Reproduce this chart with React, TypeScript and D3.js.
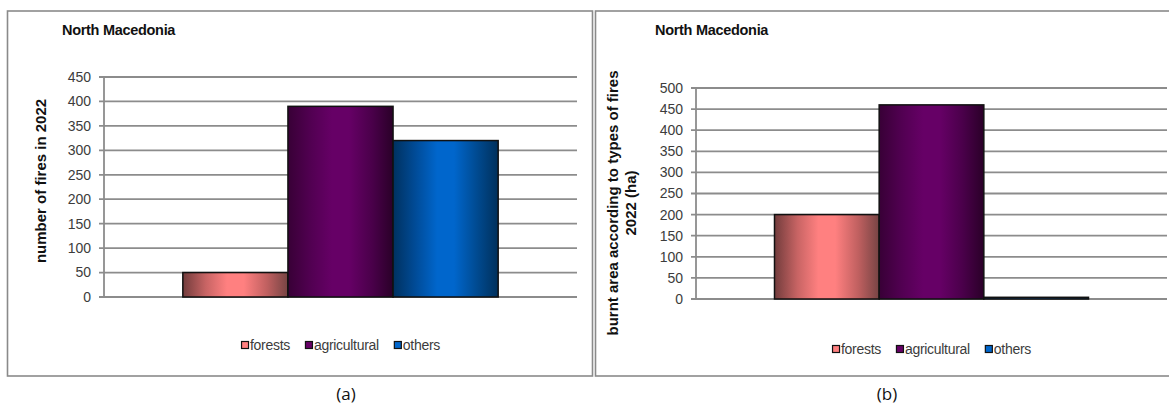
import React, { useEffect, useRef } from "react";
import * as d3 from "d3";

const categories = ["forests", "agricultural", "others"];
const firesValues = [50, 390, 320];
const areaValues = [200, 460, 4];
const firesTicks = [0, 50, 100, 150, 200, 250, 300, 350, 400, 450];
const areaTicks = [0, 50, 100, 150, 200, 250, 300, 350, 400, 450, 500];
const panelTitle = "North Macedonia";
const firesLabel = ["number of fires in 2022"];
const areaLabel = ["burnt area according to types of fires", "2022  (ha)"];
const captions = ["(a)", "(b)"];

const gradStops: Record<string, string[]> = {
  forests: ["#723c3c", "#c86464", "#ff8080", "#ff8080", "#c06060", "#764444"],
  agricultural: ["#380036", "#520052", "#660066", "#660066", "#4a004a", "#2a0028"],
  others: ["#00315f", "#004c99", "#0066cc", "#0066cc", "#004a90", "#00305c"],
};
const gradOffsets = [0, 0.22, 0.42, 0.58, 0.8, 1];
const legendColors: Record<string, string> = {
  forests: "#ff8080",
  agricultural: "#660066",
  others: "#0066cc",
};

const FONT = "'Liberation Sans', Arial, sans-serif";

type PanelCfg = {
  id: string;
  frame: [number, number, number, number];
  plot: { x0: number; x1: number; y0: number; y1: number };
  values: number[];
  ticks: number[];
  max: number;
  label: string[];
  labelX: number;
  labelY: number;
  titleX: number;
  legendY: number;
  caption: string;
  captionX: number;
};

export default function App() {
  const ref = useRef<SVGSVGElement | null>(null);

  useEffect(() => {
    const svg = d3.select(ref.current);
    svg.selectAll("*").remove();
    const defs = svg.append("defs");
    categories.forEach((c) => {
      const g = defs
        .append("linearGradient")
        .attr("id", "g-" + c)
        .attr("x1", "0%")
        .attr("x2", "100%")
        .attr("y1", "0%")
        .attr("y2", "0%");
      gradStops[c].forEach((col, i) => {
        g.append("stop").attr("offset", gradOffsets[i]).attr("stop-color", col);
      });
    });

    const panels: PanelCfg[] = [
      {
        id: "a",
        frame: [7.5, 11, 585, 365],
        plot: { x0: 104, x1: 577, y0: 77, y1: 297 },
        values: firesValues,
        ticks: firesTicks,
        max: 450,
        label: firesLabel,
        labelX: 46,
        labelY: 181,
        titleX: 62,
        legendY: 345,
        caption: captions[0],
        captionX: 346,
      },
      {
        id: "b",
        frame: [595.5, 11, 580, 365],
        plot: { x0: 696, x1: 1167, y0: 88, y1: 299 },
        values: areaValues,
        ticks: areaTicks,
        max: 500,
        label: areaLabel,
        labelX: 618,
        labelY: 203,
        titleX: 655,
        legendY: 349,
        caption: captions[1],
        captionX: 887,
      },
    ];

    panels.forEach((p) => {
      const g = svg.append("g");
      g.append("rect")
        .attr("x", p.frame[0])
        .attr("y", p.frame[1])
        .attr("width", p.frame[2])
        .attr("height", p.frame[3])
        .attr("fill", "#fff")
        .attr("stroke", "#8a8a8a")
        .attr("stroke-width", 1.6);

      const y = d3.scaleLinear().domain([0, p.max]).range([p.plot.y1, p.plot.y0]);
      const x = d3
        .scaleBand<string>()
        .domain(categories)
        .range([p.plot.x0, p.plot.x1])
        .paddingInner(0)
        .paddingOuter(0.75);

      g.selectAll(".grid")
        .data(p.ticks)
        .enter()
        .append("line")
        .attr("x1", p.plot.x0 - 5)
        .attr("x2", p.plot.x1)
        .attr("y1", (d) => y(d))
        .attr("y2", (d) => y(d))
        .attr("stroke", "#8c8c8c")
        .attr("stroke-width", 1.8);

      g.append("line")
        .attr("x1", p.plot.x0)
        .attr("x2", p.plot.x0)
        .attr("y1", p.plot.y0)
        .attr("y2", p.plot.y1)
        .attr("stroke", "#8c8c8c")
        .attr("stroke-width", 1.8);

      g.selectAll(".tl")
        .data(p.ticks)
        .enter()
        .append("text")
        .attr("x", p.plot.x0 - 13)
        .attr("y", (d) => y(d))
        .attr("dy", "0.35em")
        .attr("text-anchor", "end")
        .attr("font-family", FONT)
        .attr("font-size", 14)
        .attr("fill", "#3c3c3c")
        .text((d) => String(d));

      g.selectAll(".bar")
        .data(categories.map((c, i) => ({ c, v: p.values[i] })))
        .enter()
        .append("rect")
        .attr("x", (d) => x(d.c)!)
        .attr("width", x.bandwidth())
        .attr("y", (d) => y(d.v))
        .attr("height", (d) => y(0) - y(d.v))
        .attr("fill", (d) => `url(#g-${d.c})`)
        .attr("stroke", "#111")
        .attr("stroke-width", 1.5);

      g.append("text")
        .attr("x", p.titleX)
        .attr("y", 35)
        .attr("font-family", FONT)
        .attr("font-weight", "bold")
        .attr("font-size", 14.5)
        .attr("letter-spacing", -0.3)
        .attr("fill", "#111")
        .text(panelTitle);

      const lab = g
        .append("text")
        .attr("transform", `translate(${p.labelX},${p.labelY}) rotate(-90)`)
        .attr("text-anchor", "middle")
        .attr("font-family", FONT)
        .attr("font-weight", "bold")
        .attr("font-size", 15)
        .attr("fill", "#111");
      p.label.forEach((line, i) => {
        lab.append("tspan").attr("x", 0).attr("y", i * 18).text(line);
      });

      const leg = g.append("g");
      let cx = 0;
      categories.forEach((c) => {
        const item = leg.append("g").attr("transform", `translate(${cx},0)`);
        item
          .append("rect")
          .attr("x", 0.5)
          .attr("y", -3.5)
          .attr("width", 7)
          .attr("height", 7)
          .attr("fill", legendColors[c])
          .attr("stroke", "#111")
          .attr("stroke-width", 1.2);
        const t = item
          .append("text")
          .attr("x", 9)
          .attr("y", 0)
          .attr("dy", "0.35em")
          .attr("font-family", FONT)
          .attr("font-size", 14)
          .attr("letter-spacing", -0.3)
          .attr("fill", "#3c3c3c")
          .text(c);
        const w = (t.node() as SVGTextElement).getComputedTextLength();
        cx += 9 + w + 15;
      });
      const total = cx - 15;
      const center = (p.plot.x0 + p.plot.x1) / 2;
      leg.attr("transform", `translate(${center - total / 2},${p.legendY})`);

      svg
        .append("text")
        .attr("x", p.captionX)
        .attr("y", 400)
        .attr("text-anchor", "middle")
        .attr("font-family", "'Open Sans', 'Noto Sans', sans-serif")
        .attr("font-size", 17)
        .attr("fill", "#111")
        .text(p.caption);
    });
  }, []);

  return (
    <svg
      ref={ref}
      width={1169}
      height={407}
      style={{ position: "absolute", left: 0, top: 0, background: "#fff" }}
    />
  );
}
